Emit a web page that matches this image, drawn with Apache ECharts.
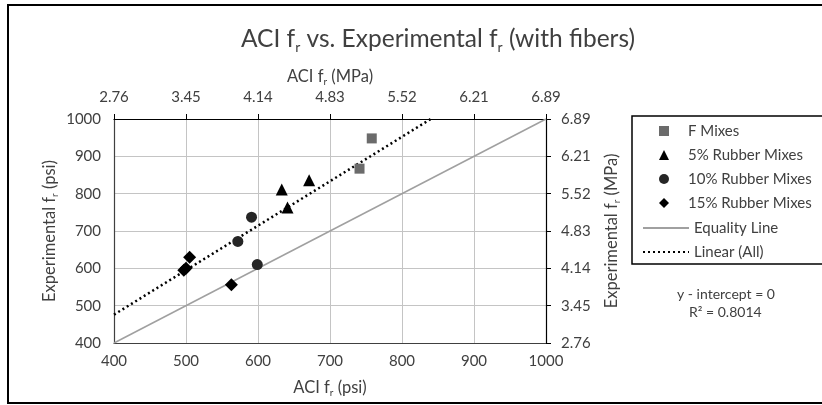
<!DOCTYPE html>
<html>
<head>
<meta charset="utf-8">
<script src="https://cdn.jsdelivr.net/npm/echarts@6/dist/echarts.min.js"></script>
<style>html,body{margin:0;padding:0;background:#fff}#c{width:822px;height:405px}</style>
</head>
<body>
<div id="c"></div>
<script>
// ---- data ----
const fMixes = [[741, 867], [758, 948]];
const rubber5 = [[633, 811], [671, 836], [641, 763]];
const rubber10 = [[591, 737], [572, 672], [599, 610]];
const rubber15 = [[505, 630], [497, 595], [500, 600], [563, 556]];
const equalityLine = [[400, 400], [1000, 1000]];
const linearAll = [[400, 476], [840, 1000]];
const mpaTopLabels = ['2.76', '3.45', '4.14', '4.83', '5.52', '6.21', '6.89'];
const mpaRightLabels = ['2.76', '3.45', '4.14', '4.83', '5.52', '6.21', '6.89'];
const psiTicks = [400, 500, 600, 700, 800, 900, 1000];

const FONT = 'Lato';
const TXT = '#404040';
const rich = {
  n: { fontFamily: FONT, fontSize: 16.5, color: TXT },
  sub: { fontFamily: FONT, fontSize: 10, color: TXT, padding: [10, 0, 0, 0] }
};
const richTitle = {
  n: { fontFamily: FONT, fontSize: 24.5, color: TXT, fontWeight: 'normal' },
  sub: { fontFamily: FONT, fontSize: 14, color: TXT, fontWeight: 'normal', padding: [16, 0, 0, 0] }
};
function mpa(arr) { return v => arr[psiTicks.indexOf(Math.round(v))] || ''; }

const chart = echarts.init(document.getElementById('c'), null, { renderer: 'canvas' });
const labelStyle = { fontFamily: FONT, fontSize: 15, color: TXT };
const gridLine = { show: true, lineStyle: { color: '#c4c4c4', width: 1 } };
const legendText = { fontFamily: FONT, fontSize: 15, color: TXT, lineHeight: 16 };

chart.setOption({
  animation: false,
  backgroundColor: '#fff',
  title: {
    text: '{n|ACI f}{sub|r}{n| vs. Experimental f}{sub|r}{n| (with fibers)}',
    left: 433, top: 19, textAlign: 'center',
    textStyle: { rich: richTitle, fontWeight: 'normal' }
  },
  grid: { left: 114, right: 276, top: 119, bottom: 62 },
  legend: [
    {
      orient: 'vertical', left: 659, top: 123, padding: 0,
      itemWidth: 10, itemHeight: 10, itemGap: 8,
      textStyle: Object.assign({ padding: [0, 0, 0, 14] }, legendText),
      data: ['F Mixes', '5% Rubber Mixes', '10% Rubber Mixes', '15% Rubber Mixes']
    },
    {
      orient: 'vertical', left: 642, top: 220, padding: 0,
      itemWidth: 46, itemHeight: 9, itemGap: 8,
      textStyle: Object.assign({ padding: [0, 0, 0, 0] }, legendText),
      data: ['Equality Line', 'Linear (All)']
    }
  ],
  xAxis: [
    {
      type: 'value', min: 400, max: 1000, interval: 100, position: 'bottom',
      name: '{n|ACI f}{sub|r}{n| (psi)}', nameLocation: 'middle', nameGap: 35, nameMoveOverlap: false,
      nameTextStyle: { rich },
      axisLine: { show: true, onZero: false, lineStyle: { color: '#404040', width: 1.2 } },
      axisTick: { show: false },
      axisLabel: Object.assign({ margin: 11, formatter: v => String(v) }, labelStyle),
      splitLine: gridLine
    },
    {
      type: 'value', min: 400, max: 1000, interval: 100, position: 'top',
      name: '{n|ACI f}{sub|r}{n| (MPa)}', nameLocation: 'middle', nameGap: 32, nameMoveOverlap: false,
      nameTextStyle: { rich },
      axisLine: { show: true, onZero: false, lineStyle: { color: '#000', width: 1.2 } },
      axisTick: { show: true, inside: false, length: 5, lineStyle: { color: '#000' } },
      axisLabel: Object.assign({ margin: 14, formatter: mpa(mpaTopLabels) }, labelStyle),
      splitLine: { show: false }
    }
  ],
  yAxis: [
    {
      type: 'value', min: 400, max: 1000, interval: 100, position: 'left',
      name: '{n|Experimental f}{sub|r}{n| (psi)}', nameLocation: 'middle', nameGap: 54, nameRotate: 90,
      nameMoveOverlap: false,
      nameTextStyle: { rich },
      axisLine: { show: true, onZero: false, lineStyle: { color: '#404040', width: 1.2 } },
      axisTick: { show: false },
      axisLabel: Object.assign({ margin: 13, formatter: v => String(v) }, labelStyle),
      splitLine: gridLine
    },
    {
      type: 'value', min: 400, max: 1000, interval: 100, position: 'right',
      name: '{n|Experimental f}{sub|r}{n| (MPa)}', nameLocation: 'middle', nameGap: 56, nameRotate: 90,
      nameMoveOverlap: false,
      nameTextStyle: { rich },
      axisLine: { show: true, onZero: false, lineStyle: { color: '#000', width: 1.2 } },
      axisTick: { show: true, inside: false, length: 5, lineStyle: { color: '#000' } },
      axisLabel: Object.assign({ margin: 15, formatter: mpa(mpaRightLabels) }, labelStyle),
      splitLine: { show: false }
    }
  ],
  series: [
    { name: 'Equality Line', type: 'line', data: equalityLine, symbol: 'none',
      lineStyle: { color: '#a0a0a0', width: 1.5 }, itemStyle: { color: 'rgba(0,0,0,0)' }, z: 2 },
    { name: 'Linear (All)', type: 'line', data: linearAll, symbol: 'none',
      lineStyle: { color: '#000', width: 2.5, type: [2, 3] }, itemStyle: { color: 'rgba(0,0,0,0)' }, z: 3 },
    { name: 'F Mixes', type: 'scatter', data: fMixes, symbol: 'rect', symbolSize: 10,
      itemStyle: { color: '#6b6b6b', opacity: 1 }, z: 5 },
    { name: '5% Rubber Mixes', type: 'scatter', data: rubber5, symbol: 'triangle', symbolSize: 12,
      itemStyle: { color: '#000', opacity: 1 }, z: 5 },
    { name: '10% Rubber Mixes', type: 'scatter', data: rubber10, symbol: 'circle', symbolSize: 11,
      itemStyle: { color: '#262626', opacity: 1 }, z: 5 },
    { name: '15% Rubber Mixes', type: 'scatter', data: rubber15, symbol: 'diamond', symbolSize: 13,
      itemStyle: { color: '#000', opacity: 1 }, z: 5 }
  ],
  graphic: [
    { type: 'rect', shape: { x: 8, y: 5, width: 830, height: 398 },
      style: { fill: 'none', stroke: '#000', lineWidth: 2 }, silent: true, z: -10 },
    { type: 'rect', shape: { x: 632, y: 116, width: 200, height: 148 },
      style: { fill: 'none', stroke: '#000', lineWidth: 1.5 }, silent: true },
    { type: 'text', left: 677, top: 287,
      style: { text: 'y - intercept = 0', fontFamily: FONT, fontSize: 14, fill: TXT } },
    { type: 'text', left: 689, top: 305,
      style: { text: 'R² = 0.8014', fontFamily: FONT, fontSize: 14, fill: TXT } }
  ]
});
</script>
</body>
</html>
